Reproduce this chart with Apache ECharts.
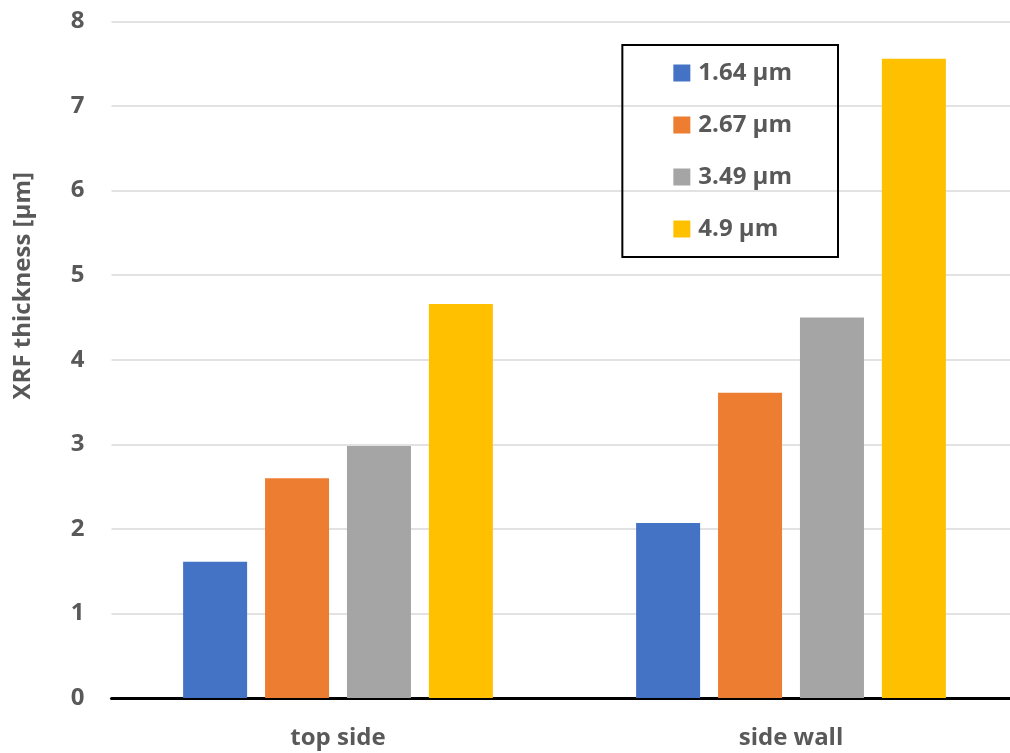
<!DOCTYPE html>
<html><head><meta charset="utf-8">
<script src="https://cdn.jsdelivr.net/npm/echarts@6/dist/echarts.min.js"></script>
<style>html,body{margin:0;padding:0;background:#fff}#c{width:1010px;height:753px}</style>
</head><body><div id="c"></div>
<script>
const categories = ['top side', 'side wall'];
const seriesNames = ['1.64 µm', '2.67 µm', '3.49 µm', '4.9 µm'];
const s1 = [1.61, 2.07];
const s2 = [2.60, 3.61];
const s3 = [2.98, 4.50];
const s4 = [4.66, 7.56];
const colors = ['#4472C4', '#ED7D31', '#A5A5A5', '#FFC000'];
const seriesData = [s1, s2, s3, s4];
const font = '"Open Sans", sans-serif';
const chart = echarts.init(document.getElementById('c'));
chart.setOption({
  animation: false,
  grid: {left: 111.5, right: -7.5, top: 21.5, bottom: 55, containLabel: false, outerBoundsMode: 'none'},
  legend: {
    orient: 'vertical', right: 172, top: 45,
    itemWidth: 17, itemHeight: 17, itemGap: 26,
    padding: [15, 46, 15, 51],
    borderColor: '#000', borderWidth: 2,
    icon: 'rect',
    textStyle: {fontFamily: font, fontWeight: 'bold', fontSize: 24, lineHeight: 26, color: '#595959', padding: [0,0,0,3]},
    data: seriesNames
  },
  xAxis: {
    type: 'category', data: categories,
    axisLine: {lineStyle: {color: '#000', width: 3}},
    axisTick: {show: false},
    axisLabel: {fontFamily: font, fontWeight: 'bold', fontSize: 24, color: '#595959', margin: 28}
  },
  yAxis: {
    type: 'value', min: 0, max: 8, interval: 1,
    name: 'XRF thickness [µm]', nameLocation: 'middle', nameGap: 76, nameRotate: 90,
    nameTextStyle: {fontFamily: font, fontWeight: 'bold', fontSize: 24, color: '#595959', padding: [0, 0, 0, 148]},
    axisLine: {show: false}, axisTick: {show: false},
    axisLabel: {fontFamily: font, fontWeight: 'bold', fontSize: 24, color: '#595959', margin: 27},
    splitLine: {lineStyle: {color: '#d9d9d9', width: 1.5}}
  },
  series: seriesData.map((d, i) => ({
    name: seriesNames[i], type: 'bar', data: d,
    barWidth: 64, barGap: '28%',
    itemStyle: {color: colors[i]}
  }))
});
</script></body></html>
